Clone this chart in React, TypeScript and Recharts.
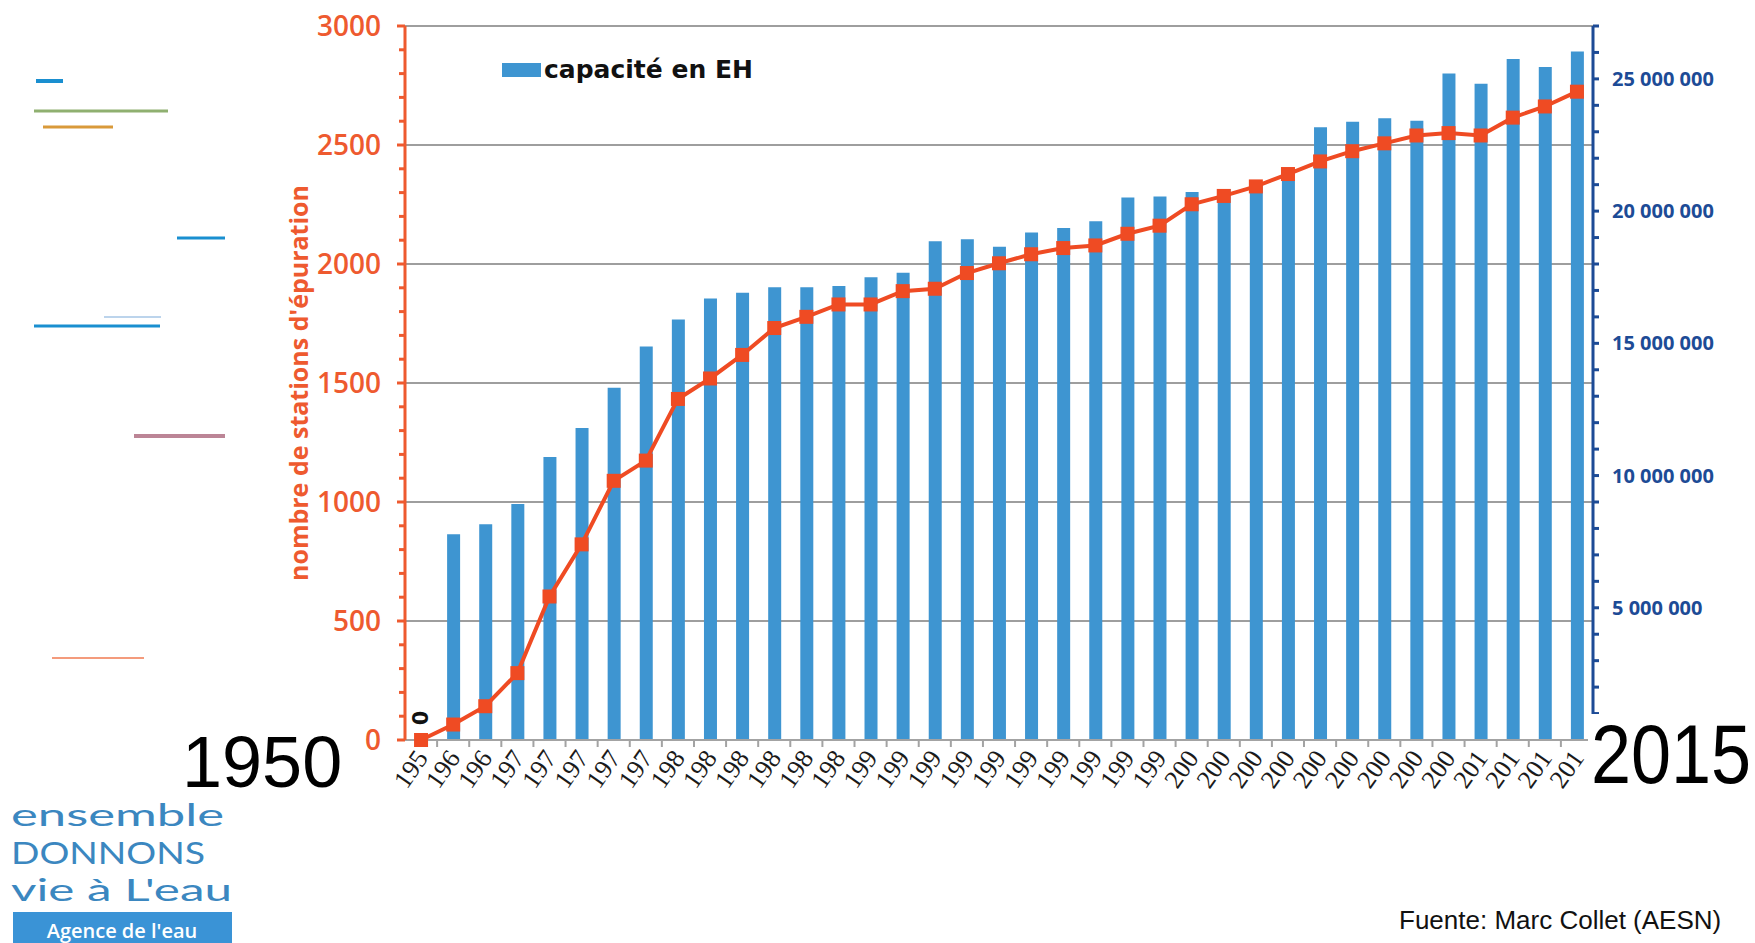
import {
  ComposedChart,
  Bar,
  Line,
  XAxis,
  YAxis,
  CartesianGrid,
  Legend,
  LabelList,
} from 'recharts';

// truncated year labels, as printed under the axis
const CATEGORY_LABELS = [
  '195',
  '196', '196',
  '197', '197', '197', '197', '197',
  '198', '198', '198', '198', '198', '198',
  '199', '199', '199', '199', '199', '199', '199', '199', '199', '199',
  '200', '200', '200', '200', '200', '200', '200', '200', '200',
  '201', '201', '201', '201',
];

// capacité en EH (right axis)
const CAPACITY = [
  0, 7780000, 8160000, 8920000, 10700000, 11800000, 13320000, 14880000,
  15900000, 16700000, 16910000, 17120000, 17120000, 17170000, 17500000,
  17670000, 18860000, 18940000, 18650000, 19190000, 19360000, 19620000,
  20510000, 20550000, 20720000, 20840000, 21010000, 21600000, 23170000,
  23380000, 23510000, 23420000, 25200000, 24820000, 25750000, 25450000,
  26040000,
];

// nombre de stations d'épuration (left axis)
const STATIONS = [
  0, 65, 142, 281, 603, 822, 1089, 1174, 1433, 1519, 1618, 1731, 1778, 1830,
  1830, 1886, 1896, 1962, 2003, 2041, 2067, 2078, 2127, 2161, 2251, 2286,
  2326, 2378, 2431, 2474, 2507, 2540, 2550, 2540, 2615, 2662, 2724,
];

const LEFT_TICKS = Array.from({ length: 31 }, (_, i) => i * 100);
const RIGHT_TICKS = Array.from({ length: 28 }, (_, i) => i * 1000000);
const GRID_VALUES = [500, 1000, 1500, 2000, 2500, 3000];

const W = 1755;
const H = 943;
const LEFT_W = 405;
const RIGHT_W = 162;
const HALF_BAND = (W - LEFT_W - RIGHT_W) / CATEGORY_LABELS.length / 2;

const ORANGE = '#ee5a2f';
const RED = '#ef4b23';
const BLUE = '#3e95d1';
const NAVY = '#1d4b96';
const GRID = '#9e9e9e';

const rows = CATEGORY_LABELS.map((label, i) => ({
  idx: i,
  label,
  capacity: CAPACITY[i],
  stations: STATIONS[i],
}));

const fmtSpace = (v: number) => String(v).replace(/\B(?=(\d{3})+(?!\d))/g, ' ');

const LeftTick = (props: any) => {
  const { x, y, payload } = props;
  const major = payload.value % 500 === 0;
  return (
    <g>
      <line x1={x - (major ? 8 : 6)} x2={x} y1={y} y2={y} stroke={ORANGE} strokeWidth={3} />
      {major && (
        <text
          x={x - 24}
          y={y}
          dy={10}
          textAnchor="end"
          fontFamily="'Open Sans', sans-serif"
          fontWeight={600}
          fontSize={28}
          fill={ORANGE}
        >
          {payload.value}
        </text>
      )}
    </g>
  );
};

const RightTick = (props: any) => {
  const { x, y, payload } = props;
  const major = payload.value % 5000000 === 0 && payload.value > 0;
  return (
    <g>
      <line x1={x} x2={x + 6} y1={y} y2={y} stroke={NAVY} strokeWidth={3} />
      {major && (
        <text
          x={x + 19}
          y={y}
          dy={7}
          textAnchor="start"
          fontFamily="'Open Sans', sans-serif"
          fontWeight={700}
          fontSize={20}
          fill={NAVY}
        >
          {fmtSpace(payload.value)}
        </text>
      )}
    </g>
  );
};

const XTick = (props: any) => {
  const { x, y, payload } = props;
  const tx = x + 8;
  const ty = y + 18;
  return (
    <g>
      <line x1={x + HALF_BAND} x2={x + HALF_BAND} y1={y} y2={y + 7} stroke="#a3a3a3" strokeWidth={2} />
      <text
        x={tx}
        y={ty}
        transform={`rotate(-55 ${tx} ${ty})`}
        textAnchor="end"
        fontFamily="'Liberation Serif', serif"
        fontSize={26}
        fill="#1a1a1a"
      >
        {CATEGORY_LABELS[payload.value]}
      </text>
    </g>
  );
};

const SquareDot = (props: any) => {
  const { cx, cy, index } = props;
  if (cx == null || cy == null) return null;
  return <rect key={`sq-${index}`} x={cx - 7} y={cy - 7} width={14} height={14} fill={RED} />;
};

const ZeroLabel = (props: any) => {
  const { x, y, index, value } = props;
  if (index !== 0) return null;
  const ly = y - 22;
  return (
    <text
      x={x}
      y={ly}
      transform={`rotate(-90 ${x} ${ly})`}
      textAnchor="middle"
      dominantBaseline="central"
      fontFamily="'DejaVu Sans', sans-serif"
      fontWeight={700}
      fontSize={21}
      fill="#111"
    >
      {value}
    </text>
  );
};

const LeftTitle = (props: any) => {
  const vb = props.viewBox || {};
  const cx = vb.x + vb.width - 107;
  const cy = vb.y + vb.height / 2;
  return (
    <text
      x={cx}
      y={cy}
      transform={`rotate(-90 ${cx} ${cy})`}
      textAnchor="middle"
      dominantBaseline="central"
      fontFamily="'Open Sans', sans-serif"
      fontWeight={700}
      fontSize={25}
      fill={ORANGE}
    >
      nombre de stations d'épuration
    </text>
  );
};

const LegendContent = () => (
  <div style={{ display: 'flex', alignItems: 'center', height: 32 }}>
    <span style={{ display: 'inline-block', width: 39, height: 14, background: BLUE, marginRight: 3 }} />
    <span
      style={{
        fontFamily: "'DejaVu Sans', sans-serif",
        fontWeight: 700,
        fontSize: 25,
        color: '#111',
        lineHeight: '32px',
        whiteSpace: 'nowrap',
      }}
    >
      capacité en EH
    </span>
  </div>
);

const DECOR = [
  { x1: 36, x2: 63, y: 81, w: 4, c: '#1a8fd0' },
  { x1: 34, x2: 168, y: 111, w: 3, c: '#8fb070' },
  { x1: 43, x2: 113, y: 127, w: 3, c: '#d99a3a' },
  { x1: 177, x2: 225, y: 238, w: 3, c: '#1a8fd0' },
  { x1: 104, x2: 161, y: 317, w: 1.5, c: '#a6c6e6' },
  { x1: 34, x2: 160, y: 326, w: 3, c: '#1a8fd0' },
  { x1: 134, x2: 225, y: 436, w: 4, c: '#bc8596' },
  { x1: 52, x2: 144, y: 658, w: 1.5, c: '#f07a50' },
];

export default function App() {
  return (
    <div style={{ position: 'relative', width: W, height: H, background: '#fff', overflow: 'hidden' }}>
      <style>{'body{margin:0}'}</style>
      <ComposedChart width={W} height={H} data={rows} margin={{ top: 26, right: 0, bottom: 0, left: 0 }}>
        <CartesianGrid
          yAxisId="left"
          vertical={false}
          horizontalValues={GRID_VALUES}
          stroke={GRID}
          strokeWidth={2}
        />
        <XAxis
          dataKey="idx"
          type="category"
          height={H - 740}
          interval={0}
          tickSize={0}
          tickMargin={0}
          tickLine={false}
          axisLine={{ stroke: '#a3a3a3', strokeWidth: 2 }}
          tick={(p: any) => <XTick {...p} />}
        />
        <YAxis
          yAxisId="left"
          orientation="left"
          width={LEFT_W}
          domain={[0, 3000]}
          ticks={LEFT_TICKS}
          interval={0}
          tickSize={0}
          tickMargin={0}
          tickLine={false}
          axisLine={{ stroke: ORANGE, strokeWidth: 3 }}
          tick={(p: any) => <LeftTick {...p} />}
          label={(p: any) => <LeftTitle {...p} />}
        />
        <YAxis
          yAxisId="right"
          orientation="right"
          width={RIGHT_W}
          domain={[0, 27000000]}
          ticks={RIGHT_TICKS}
          interval={0}
          tickSize={0}
          tickMargin={0}
          tickLine={false}
          axisLine={{ stroke: NAVY, strokeWidth: 3 }}
          tick={(p: any) => <RightTick {...p} />}
        />
        <Legend
          layout="horizontal"
          verticalAlign="middle"
          align="center"
          wrapperStyle={{ top: 54, left: 502, width: 340 }}
          content={() => <LegendContent />}
        />
        <Bar
          yAxisId="right"
          dataKey="capacity"
          name="capacité en EH"
          fill={BLUE}
          barSize={13}
          isAnimationActive={false}
        />
        <Line
          yAxisId="left"
          dataKey="stations"
          name="nombre de stations d'épuration"
          stroke={RED}
          strokeWidth={4}
          dot={SquareDot}
          activeDot={false}
          legendType="none"
          isAnimationActive={false}
        >
          <LabelList dataKey="stations" content={(p: any) => <ZeroLabel {...p} />} />
        </Line>
      </ComposedChart>

      <svg
        width={W}
        height={H}
        style={{ position: 'absolute', left: 0, top: 0, pointerEvents: 'none' }}
      >
        {DECOR.map((d, i) => (
          <line key={i} x1={d.x1} x2={d.x2} y1={d.y} y2={d.y} stroke={d.c} strokeWidth={d.w} />
        ))}
        <text x={182} y={787} fontFamily="'Liberation Sans', Arial, sans-serif" fontSize={72} fill="#000">
          1950
        </text>
        <rect x={1588} y={714} width={167} height={80} fill="#fff" />
        <g transform="translate(1591 783) scale(1 1.16)">
          <text x={0} y={0} fontFamily="'Liberation Sans', Arial, sans-serif" fontSize={72} fill="#000">
            2015
          </text>
        </g>
        <g fontFamily="Lato, sans-serif" fontWeight={400} fill="#3b87c0">
          <text x={11} y={826} fontSize={31} textLength={213} lengthAdjust="spacingAndGlyphs">
            ensemble
          </text>
          <text x={11} y={864} fontSize={31} textLength={194} lengthAdjust="spacingAndGlyphs">
            DONNONS
          </text>
          <text x={11} y={901} fontSize={31} textLength={221} lengthAdjust="spacingAndGlyphs">
            vie à L'eau
          </text>
        </g>
        <rect x={13} y={912} width={219} height={40} fill="#3a93d6" />
        <text
          x={122}
          y={938}
          textAnchor="middle"
          fontFamily="'Open Sans', sans-serif"
          fontWeight={600}
          fontSize={20}
          fill="#fff"
        >
          Agence de l'eau
        </text>
        <text x={1399} y={929} fontFamily="'Liberation Sans', Arial, sans-serif" fontSize={26} fill="#111">
          Fuente: Marc Collet (AESN)
        </text>
      </svg>
    </div>
  );
}
